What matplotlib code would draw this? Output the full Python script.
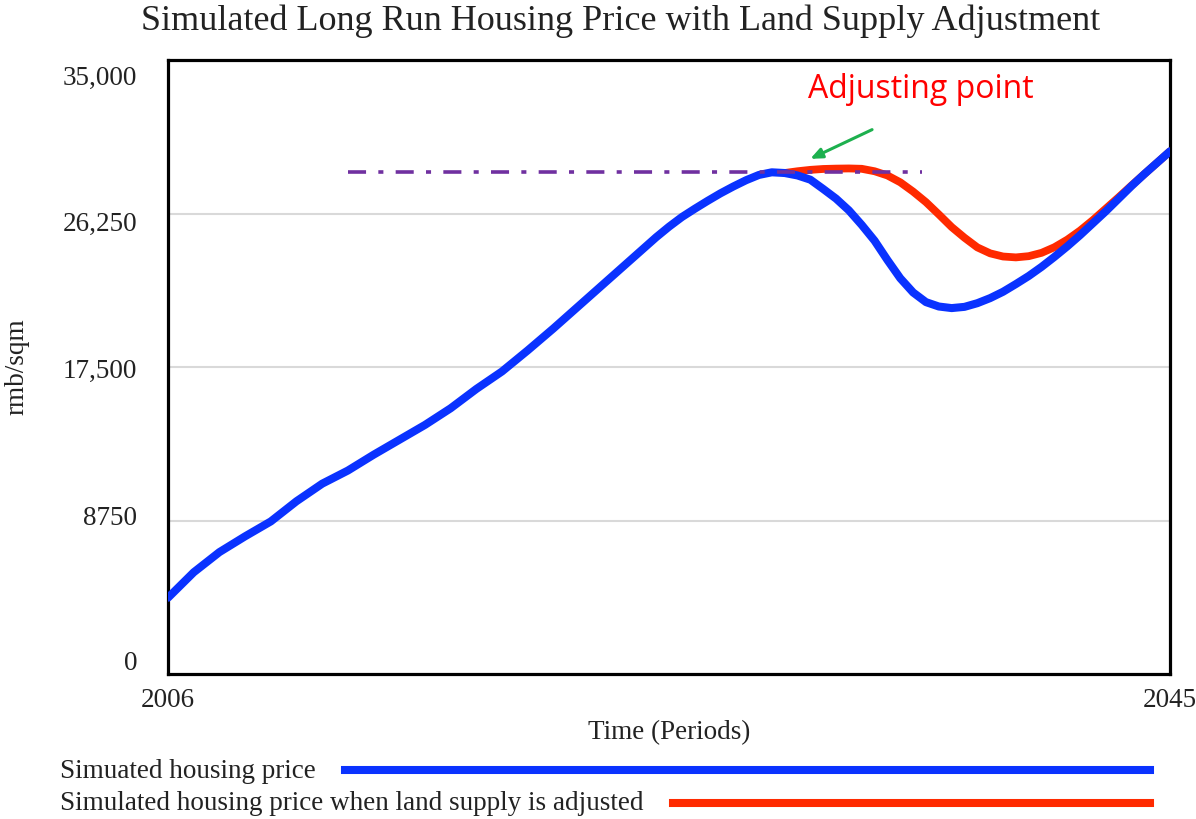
import matplotlib.pyplot as plt
import matplotlib.transforms as mtransforms
from matplotlib.lines import Line2D

# simulated housing price, rmb/sqm (yearly, then half-yearly over the turn)
years = [2006, 2007, 2008, 2009, 2010, 2011, 2012, 2013, 2014, 2015,
         2016, 2017, 2018, 2019, 2020, 2021, 2022, 2023, 2024, 2025,
         2025.5, 2026, 2026.5, 2027, 2027.5, 2028, 2028.5, 2029, 2029.5, 2030, 2030.5,
         2031, 2031.5, 2032, 2032.5, 2033, 2033.5, 2034, 2034.5, 2035, 2035.5,
         2036, 2036.5, 2037, 2037.5, 2038, 2038.5, 2039, 2039.5, 2040, 2040.5,
         2041, 2041.5, 2042, 2042.5, 2043, 2043.5, 2044, 2044.5, 2045]
base_price = [4350, 5800, 6950, 7850, 8700, 9850, 10850, 11600, 12500, 13350,
              14200, 15150, 16250, 17250, 18450, 19700, 21000, 22300, 23600, 24900,
              25500, 26050, 26520, 26970, 27400, 27790, 28150, 28450, 28600, 28560, 28420,
              28180, 27650, 27100, 26430, 25600, 24700, 23600, 22560, 21750, 21200,
              20950, 20860, 20930, 21140, 21430, 21790, 22230, 22690, 23210, 23780,
              24380, 25020, 25700, 26380, 27100, 27820, 28500, 29150, 29800]

# run with land supply adjusted, from the adjusting point on
adj_years = [2030, 2030.5, 2031, 2031.5, 2032, 2032.5, 2033, 2033.5, 2034, 2034.5,
             2035, 2035.5, 2036, 2036.5, 2037, 2037.5, 2038, 2038.5, 2039, 2039.5,
             2040, 2040.5, 2041, 2041.5, 2042, 2042.5, 2043, 2043.5, 2044, 2044.5, 2045]
adj_price = [28560, 28660, 28740, 28790, 28810, 28820, 28800, 28660, 28420, 28030,
             27500, 26900, 26200, 25480, 24870, 24320, 23980, 23800, 23750, 23820,
             24010, 24330, 24760, 25280, 25880, 26530, 27180, 27850, 28500, 29150, 29800]

ref_level = 28640
ref_span = [2013.0, 2035.35]
arrow_tail = (2033.5, 31100)
arrow_head = (2030.9, 29300)

yticks = [0, 8750, 17500, 26250, 35000]
ytick_labels = ["0", "8750", "17,500", "26,250", "35,000"]
# small vertical nudges (px, positive = down) for the y labels
ylabel_shift = [-14, -5, 1, 8, 15]

blue = "#0A32FF"
red = "#FF2A00"
serif = ["Liberation Serif", "DejaVu Serif"]
fs = 19.5

fig = plt.figure(figsize=(11.96, 8.19), dpi=100)
ax = fig.add_axes([0.1405, 0.177, 0.8378, 0.7497])

for g in yticks[1:-1]:
    ax.axhline(g, color="#D9D9D9", lw=1.5, zorder=0)

ax.plot(adj_years, adj_price, color=red, lw=5.6, solid_capstyle="round",
        solid_joinstyle="round", zorder=2)
ax.plot(years, base_price, color=blue, lw=5.8, solid_capstyle="round",
        solid_joinstyle="round", zorder=3)
ax.plot(ref_span, [ref_level, ref_level], color="#7030A0", lw=2.6,
        linestyle=(0, (5, 3.4, 1.4, 3.4)), zorder=4)

ax.annotate("", xy=arrow_head, xytext=arrow_tail,
            arrowprops=dict(arrowstyle="-|>,head_length=0.7,head_width=0.3",
                            color="#1DB04E", lw=2.2))
ax.text(2030.9, 33300, "Adjusting point", color="#FF0000", fontsize=23,
        family=["Open Sans", "DejaVu Sans"], ha="left", va="center")

ax.set_xlim(2006, 2045)
ax.set_ylim(0, 35000)
ax.set_xticks([2006, 2045])
ax.set_xticklabels(["2006", "2045"], family=serif, fontsize=fs, color="#222222")
ax.set_yticks(yticks)
ax.set_yticklabels(ytick_labels, family=serif, fontsize=fs, color="#222222")
ax.tick_params(length=0)
ax.tick_params(axis="y", pad=22)
ax.tick_params(axis="x", pad=10)
for lab, dy in zip(ax.get_yticklabels(), ylabel_shift):
    lab.set_transform(lab.get_transform() +
                      mtransforms.ScaledTranslation(0, -dy / 100, fig.dpi_scale_trans))

for s in ax.spines.values():
    s.set_linewidth(2.3)
    s.set_color("black")

ax.set_xlabel("Time (Periods)", family=serif, fontsize=fs, labelpad=5, color="#222222")
ax.set_ylabel("rmb/sqm", family=serif, fontsize=fs, color="#222222", va="center")
ax.yaxis.set_label_coords(-0.151, 0.5)

fig.text(0.519, 0.974, "Simulated Long Run Housing Price with Land Supply Adjustment",
         family=serif, fontsize=26, ha="center", va="center", color="#222222")

# legend under the plot
fig.text(60 / 1196, 1 - 771 / 819, "Simuated housing price", family=serif,
         fontsize=fs, ha="left", va="center", color="#222222")
fig.text(60 / 1196, 1 - 803 / 819, "Simulated housing price when land supply is adjusted",
         family=serif, fontsize=fs, ha="left", va="center", color="#222222")
fig.add_artist(Line2D([345 / 1196, 1150 / 1196], [1 - 770 / 819, 1 - 770 / 819],
                      color=blue, lw=5.8, transform=fig.transFigure))
fig.add_artist(Line2D([673 / 1196, 1150 / 1196], [1 - 803 / 819, 1 - 803 / 819],
                      color=red, lw=5.8, transform=fig.transFigure))

fig.savefig("out.png", dpi=100)
